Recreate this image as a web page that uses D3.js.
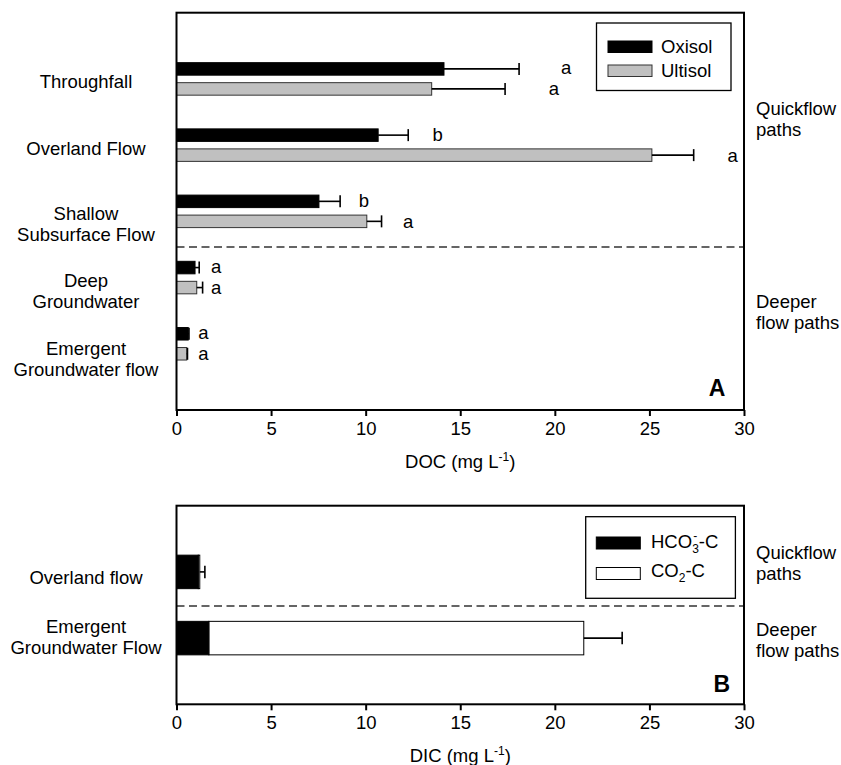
<!DOCTYPE html>
<html><head><meta charset="utf-8">
<script src="https://cdn.jsdelivr.net/npm/d3@7/dist/d3.min.js"></script>
<style>body{margin:0;background:#fff}svg{display:block}text{font-family:"Liberation Sans",Arial,Helvetica,sans-serif;fill:#000}</style>
</head><body><div id="chart"></div>
<script>
// ---------- DATA ----------
const docCats = ["Throughfall","Overland Flow","Shallow Subsurface Flow","Deep Groundwater","Emergent Groundwater flow"];
const docLabelLines = [["Throughfall"],["Overland Flow"],["Shallow","Subsurface Flow"],["Deep","Groundwater"],["Emergent","Groundwater flow"]];
const oxisolMean = [14.14, 10.66, 7.53, 0.98, 0.62];
const oxisolErr  = [3.97, 1.59, 1.12, 0.22, 0.04];
const ultisolMean = [13.49, 25.13, 10.06, 1.07, 0.54];
const ultisolErr  = [3.88, 2.21, 0.78, 0.31, 0.04];
const oxisolLetters  = ["a","b","b","a","a"];
const ultisolLetters = ["a","a","a","a","a"];
const oxisolLetterAt  = [20.6, 13.8, 9.9, 2.1, 1.42];   // x (mg/L) of letter annotations
const ultisolLetterAt = [19.95, 29.4, 12.25, 2.1, 1.42];

const dicCats = ["Overland flow","Emergent Groundwater Flow"];
const dicLabelLines = [["Overland flow"],["Emergent","Groundwater Flow"]];
const hco3C = [1.15, 1.71];
const co2C  = [0.08, 19.82];
const dicErr = [0.27, 2.03];

const xTicks = [0,5,10,15,20,25,30];
const flowGroups = [["Quickflow","paths"],["Deeper","flow paths"]];

// ---------- LAYOUT ----------
const W = 841, H = 765;
const FS = 18.5;
const L = 176.5, R = 744;
const A = {top: 12.7, bottom: 410};
const B = {top: 505.7, bottom: 704.3};

const svg = d3.select("#chart").append("svg").attr("width", W).attr("height", H);

const x = d3.scaleLinear().domain([0,30]).range([L, R]);
const yA = d3.scalePoint().domain(docCats).range([A.top, A.bottom]).padding(1);
const yB = d3.scalePoint().domain(dicCats).range([B.top, B.bottom]).padding(1);

function axis(yPos, title) {
  const g = svg.append("g").attr("transform", `translate(0,${yPos})`)
    .call(d3.axisBottom(x).tickValues(xTicks).tickSize(6).tickPadding(6).tickFormat(d3.format("d")));
  g.select(".domain").remove();
  g.selectAll(".tick line").attr("stroke", "#000").attr("stroke-width", 2);
  g.selectAll(".tick text").style("font-size", FS + "px").attr("fill", "#000");
  const t = svg.append("text").attr("x", (L + R) / 2).attr("y", yPos + 58)
    .attr("text-anchor", "middle").style("font-size", FS + "px");
  t.append("tspan").text(title + " (mg L");
  t.append("tspan").attr("dy", -7).style("font-size", "12px").text("-1");
  t.append("tspan").attr("dy", 7).text(")");
}

function frame(p) {
  svg.append("rect").attr("x", L).attr("y", p.top).attr("width", R - L).attr("height", p.bottom - p.top)
    .attr("fill", "none").attr("stroke", "#000").attr("stroke-width", 2);
}

function errBar(v, e, yc, cap) {
  svg.append("line").attr("x1", x(v)).attr("x2", x(v + e)).attr("y1", yc).attr("y2", yc)
    .attr("stroke", "#000").attr("stroke-width", 1.6);
  svg.append("line").attr("x1", x(v + e)).attr("x2", x(v + e)).attr("y1", yc - cap / 2).attr("y2", yc + cap / 2)
    .attr("stroke", "#000").attr("stroke-width", 1.6);
}

function leftLabels(scale, cats, lines, offs) {
  cats.forEach((c, i) => {
    const t = svg.append("text").attr("text-anchor", "middle").style("font-size", FS + "px");
    lines[i].forEach((ln, j) => {
      t.append("tspan").attr("x", 86).attr("y", scale(c) + offs[i] + j * 21.5).attr("dy", "0.35em").text(ln);
    });
  });
}

function rightLabels(ys) {
  flowGroups.forEach((grp, i) => {
    grp.forEach((ln, j) => {
      svg.append("text").attr("x", 756).attr("y", ys[i] + j * 21).attr("dy", "0.35em")
        .style("font-size", FS + "px").text(ln);
    });
  });
}

function dashed(yv) {
  svg.append("line").attr("x1", L).attr("x2", R).attr("y1", yv).attr("y2", yv)
    .attr("stroke", "#333").attr("stroke-width", 1.5).attr("stroke-dasharray", "8,4.5");
}

// ---------- PANEL A ----------
const bh = 12.5, off = 10;
docCats.forEach((c, i) => {
  const yc = yA(c);
  svg.append("rect").attr("x", x(0)).attr("y", yc - off - bh / 2).attr("width", x(oxisolMean[i]) - x(0)).attr("height", bh)
    .attr("fill", "#000").attr("stroke", "#000").attr("stroke-width", 1);
  svg.append("rect").attr("x", x(0)).attr("y", yc + off - bh / 2).attr("width", x(ultisolMean[i]) - x(0)).attr("height", bh)
    .attr("fill", "#c0c0c0").attr("stroke", "#333").attr("stroke-width", 1);
  errBar(oxisolMean[i], oxisolErr[i], yc - off, 12);
  errBar(ultisolMean[i], ultisolErr[i], yc + off, 12);
  svg.append("text").attr("x", x(oxisolLetterAt[i])).attr("y", yc - off).attr("dy", "0.3em")
    .attr("text-anchor", "middle").style("font-size", FS + "px").text(oxisolLetters[i]);
  svg.append("text").attr("x", x(ultisolLetterAt[i])).attr("y", yc + off).attr("dy", "0.35em")
    .attr("text-anchor", "middle").style("font-size", FS + "px").text(ultisolLetters[i]);
});
dashed((yA(docCats[2]) + yA(docCats[3])) / 2 + 2.5);
frame(A);
axis(A.bottom, "DOC");
leftLabels(yA, docCats, docLabelLines, [3, 3, 2, 2.5, 4.5]);
rightLabels([109, 301.5]);

// legend A
const lgA = svg.append("g");
lgA.append("rect").attr("x", 596.5).attr("y", 23).attr("width", 134.5).attr("height", 67.5)
  .attr("fill", "#fff").attr("stroke", "#000").attr("stroke-width", 1.3);
lgA.append("rect").attr("x", 608).attr("y", 41).attr("width", 44).attr("height", 11.5).attr("fill", "#000").attr("stroke", "#000");
lgA.append("rect").attr("x", 608).attr("y", 65).attr("width", 44).attr("height", 11.5).attr("fill", "#c0c0c0").attr("stroke", "#333");
lgA.append("text").attr("x", 661).attr("y", 46.7).attr("dy", "0.35em").style("font-size", FS + "px").text("Oxisol");
lgA.append("text").attr("x", 661).attr("y", 70.5).attr("dy", "0.35em").style("font-size", FS + "px").text("Ultisol");
svg.append("text").attr("x", 717).attr("y", 388).attr("dy", "0.36em").attr("text-anchor", "middle")
  .style("font-size", "23px").style("font-weight", "bold").text("A");

// ---------- PANEL B ----------
const bhB = 33.5;
dicCats.forEach((c, i) => {
  const yc = yB(c);
  const tot = hco3C[i] + co2C[i];
  svg.append("rect").attr("x", x(hco3C[i])).attr("y", yc - bhB / 2).attr("width", x(tot) - x(hco3C[i])).attr("height", bhB)
    .attr("fill", "#fff").attr("stroke", "#000").attr("stroke-width", 1);
  svg.append("rect").attr("x", x(0)).attr("y", yc - bhB / 2).attr("width", x(hco3C[i]) - x(0)).attr("height", bhB)
    .attr("fill", "#000").attr("stroke", "#000").attr("stroke-width", 1);
  errBar(tot, dicErr[i], yc, 12.5);
});
dashed((yB(dicCats[0]) + yB(dicCats[1])) / 2 + 1);
frame(B);
axis(B.bottom, "DIC");
leftLabels(yB, dicCats, dicLabelLines, [5.4, -12]);
rightLabels([553, 630]);

// legend B
const lgB = svg.append("g");
lgB.append("rect").attr("x", 585.7).attr("y", 516.7).attr("width", 149.7).attr("height", 81.6)
  .attr("fill", "#fff").attr("stroke", "#000").attr("stroke-width", 1.3);
lgB.append("rect").attr("x", 596.3).attr("y", 537).attr("width", 44).attr("height", 12).attr("fill", "#000").attr("stroke", "#000");
lgB.append("rect").attr("x", 596.3).attr("y", 567.5).attr("width", 44).attr("height", 12).attr("fill", "#fff").attr("stroke", "#000");
const t1 = lgB.append("text").attr("x", 651).attr("y", 548).style("font-size", FS + "px");
t1.append("tspan").text("HCO");
t1.append("tspan").attr("dy", 5).style("font-size", "12px").text("3");
t1.append("tspan").attr("dx", -5.5).attr("dy", -13).style("font-size", "12px").text("-");
t1.append("tspan").attr("dx", 1.5).attr("dy", 8).text("-C");
const t2 = lgB.append("text").attr("x", 651).attr("y", 577).style("font-size", FS + "px");
t2.append("tspan").text("CO");
t2.append("tspan").attr("dy", 5).style("font-size", "12px").text("2");
t2.append("tspan").attr("dy", -5).text("-C");
svg.append("text").attr("x", 721.7).attr("y", 683.3).attr("dy", "0.36em").attr("text-anchor", "middle")
  .style("font-size", "23px").style("font-weight", "bold").text("B");
</script></body></html>
